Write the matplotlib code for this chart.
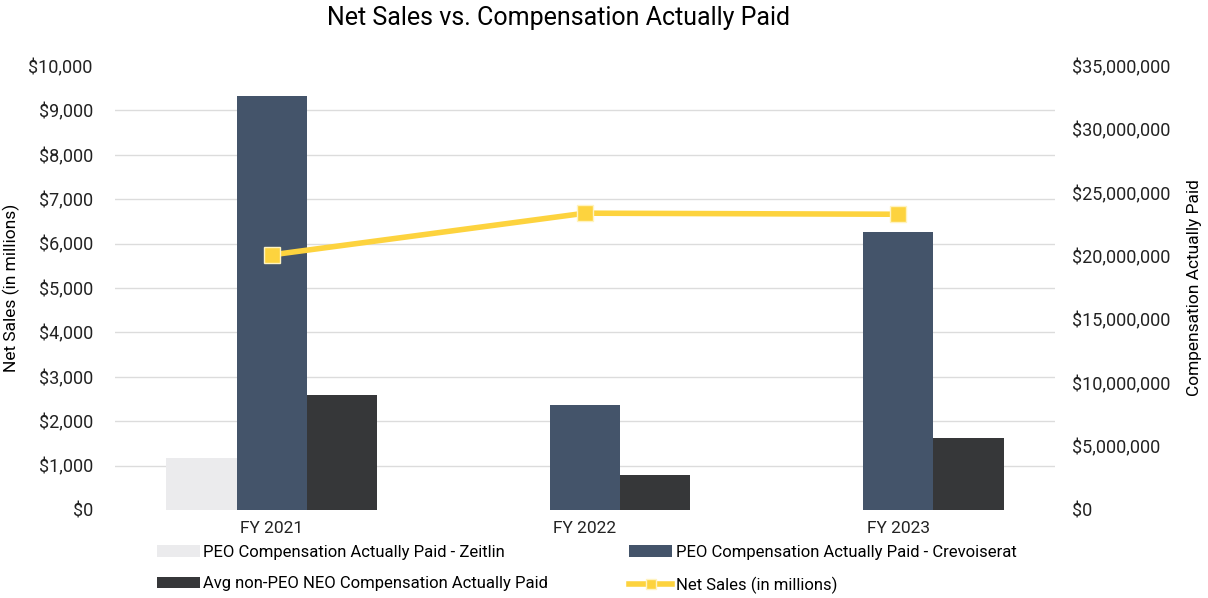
import numpy as np
import matplotlib.pyplot as plt
from matplotlib.ticker import FuncFormatter

# Datos
categorias = ['FY 2021', 'FY 2022', 'FY 2023']
cap_zeitlin = [4100000, 0, 0]
cap_crevoiserat = [32650000, 8250000, 21900000]
cap_avg_neo = [9050000, 2780000, 5650000]
net_sales = [5746, 6685, 6661]

plt.rcParams['font.family'] = ['Roboto', 'DejaVu Sans']

fig = plt.figure(figsize=(12.08, 5.98), dpi=100)
ax = fig.add_axes([115 / 1208, 1 - 510 / 598, 940 / 1208, 444 / 598])
ax2 = ax.twinx()

ax.set_zorder(ax2.get_zorder() + 1)
ax.patch.set_visible(False)
ax2.set_facecolor('#F9F9F9')

x = np.arange(len(categorias))
ancho = 0.224

b1 = ax2.bar(x - ancho, cap_zeitlin, ancho, color='#EBEBED', label='PEO Compensation Actually Paid - Zeitlin')
b2 = ax2.bar(x, cap_crevoiserat, ancho, color='#44546A', label='PEO Compensation Actually Paid - Crevoiserat')
b3 = ax2.bar(x + ancho, cap_avg_neo, ancho, color='#363739', label='Avg non-PEO NEO Compensation Actually Paid')
linea, = ax.plot(x, net_sales, color='#FDD33E', linewidth=4, marker='s', markersize=11,
                 markerfacecolor='#FDD33E', markeredgecolor='#FFF3C0', markeredgewidth=1,
                 label='Net Sales (in millions)')

ax.set_xlim(-0.5, 2.5)
ax.set_ylim(0, 10000)
ax2.set_ylim(0, 35000000)
ax.set_yticks(np.arange(0, 10001, 1000))
ax2.set_yticks(np.arange(0, 35000001, 5000000))
ax.yaxis.set_major_formatter(FuncFormatter(lambda v, p: f'${v:,.0f}'))
ax2.yaxis.set_major_formatter(FuncFormatter(lambda v, p: f'${v:,.0f}'))
ax.set_xticks(x)
ax.set_xticklabels(categorias)

# Grid detras de las barras, alineado con las marcas del eje izquierdo
ax2.set_yticks(np.arange(0, 35000001, 3500000), minor=True)
ax2.grid(axis='y', which='minor', color='#DCDCDC', linewidth=1)
ax2.grid(axis='y', which='major', visible=False)
ax2.set_axisbelow(True)
for a in (ax, ax2):
    for s in a.spines.values():
        s.set_visible(False)
    a.tick_params(which='both', length=0, labelsize=13, colors='#222222')
ax.tick_params(axis='x', labelsize=12.5, pad=8)
ax.tick_params(axis='y', pad=16)
ax2.tick_params(axis='y', pad=12)

ax.set_ylabel('Net Sales (in millions)', fontsize=12.5, labelpad=6)
ax2.set_ylabel('Compensation Actually Paid', fontsize=12.5, labelpad=12)
fig.suptitle('Net Sales vs. Compensation Actually Paid', fontsize=18, x=0.462, y=0.99)

fig.legend(handles=[b1, b3, b2, linea], loc='upper left', bbox_to_anchor=(150 / 1208, 1 - 538 / 598),
           ncol=2, frameon=False, fontsize=12, columnspacing=4.85, handlelength=2.6,
           handletextpad=0.2, labelspacing=1.0, borderaxespad=0, markerscale=0.7)

plt.savefig('out.png', dpi=100)
